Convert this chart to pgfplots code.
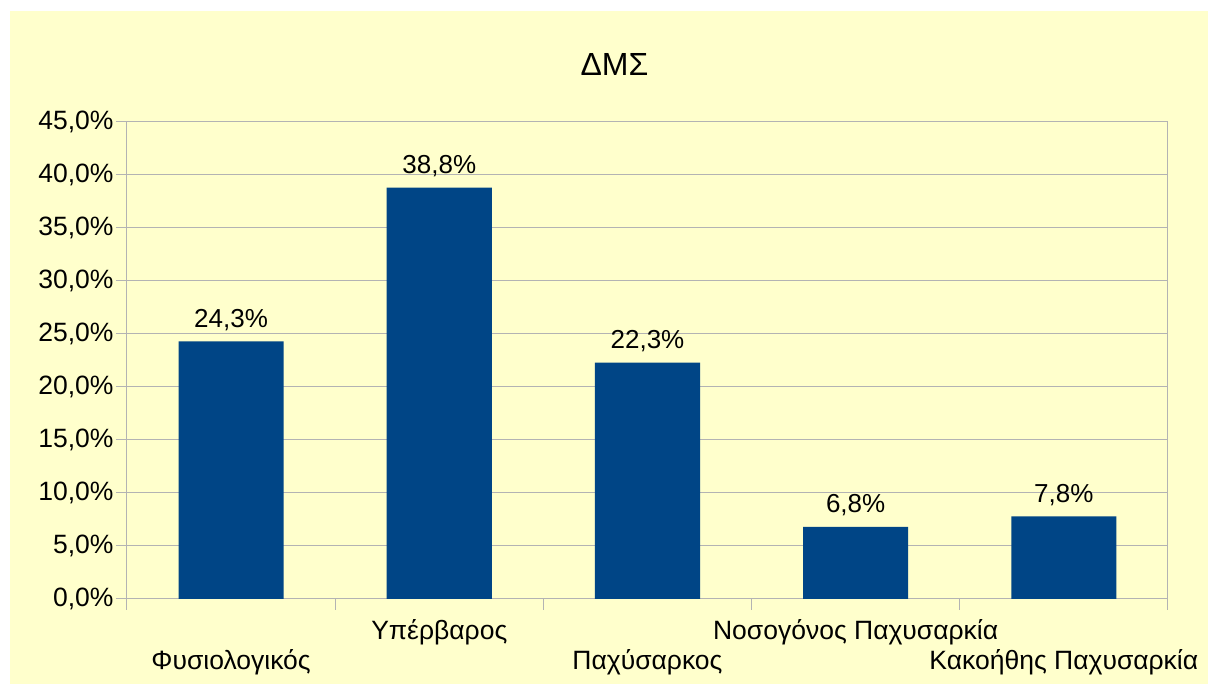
\documentclass[border=0pt]{standalone}
\usepackage{fontspec}
\setmainfont{Liberation Sans}
\usepackage{pgfplots}
\pgfplotsset{compat=1.18}
\definecolor{chartbg}{HTML}{FFFFCC}
\definecolor{barblue}{HTML}{004586}
\definecolor{gridgray}{HTML}{B3B3B3}
\begin{document}
\begin{tikzpicture}[x=1bp,y=1bp]
\useasboundingbox (-127,-85) rectangle (1081,599);
\fill[chartbg] (-117,-85) rectangle (1081,588);
\node[anchor=base, font=\fontsize{32bp}{38bp}\selectfont] at (487.5,523) {ΔΜΣ};
\begin{axis}[
  at={(0,0)}, anchor=south west,
  scale only axis, width=1041bp, height=477bp,
  xmin=-0.5, xmax=4.5, ymin=0, ymax=45,
  ybar, bar width=0.505,
  ytick={0,5,...,45},
  yticklabels={{0,0\%},{5,0\%},{10,0\%},{15,0\%},{20,0\%},{25,0\%},{30,0\%},{35,0\%},{40,0\%},{45,0\%}},
  xtick={0,1,2,3,4},
  xticklabels={Φυσιολογικός,\raisebox{30bp}{Υπέρβαρος},Παχύσαρκος,\raisebox{30bp}{Νοσογόνος Παχυσαρκία},Κακοήθης Παχυσαρκία},
  minor xtick={-0.5,0.5,1.5,2.5,3.5,4.5},
  major x tick style={draw=none},
  ymajorgrids, grid style={gridgray, line width=1bp},
  axis line style={gridgray, line width=1bp},
  tick style={gridgray, line width=1bp},
  tick align=outside, major tick length=11bp, minor tick length=11bp,
  xtick pos=bottom, ytick pos=left,
  ticklabel style={font=\fontsize{26.5bp}{31bp}\selectfont, black},
  yticklabel style={xshift=1bp},
  xticklabel style={anchor=base, yshift=-60bp},
  nodes near coords={\pgfmathprintnumber[fixed,fixed zerofill,precision=1,use comma,assume math mode=true]{\pgfplotspointmeta}\%},
  nodes near coords style={anchor=base, yshift=14bp, font=\fontsize{26bp}{31bp}\selectfont, black},
]
\addplot[fill=barblue, draw=none] coordinates {(0,24.3) (1,38.8) (2,22.3) (3,6.8) (4,7.8)};
\end{axis}
\end{tikzpicture}
\end{document}
